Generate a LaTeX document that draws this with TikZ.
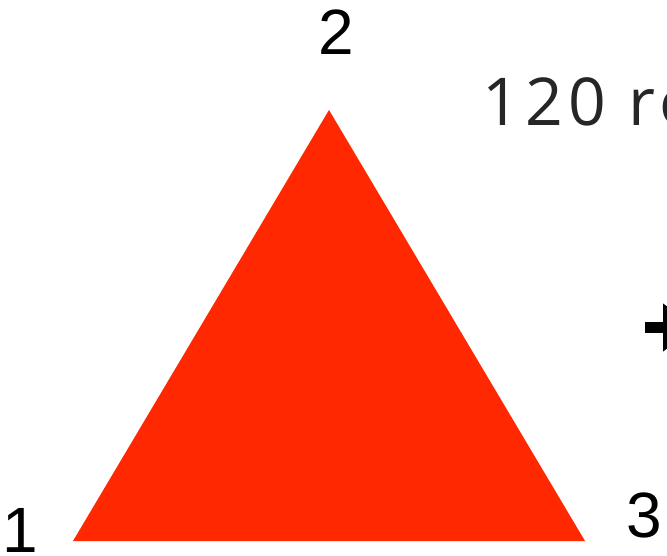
\documentclass[tikz,border=0pt]{standalone}
\usepackage{fontspec}
\setmainfont{Liberation Sans}
\newfontfamily\capfont[LetterSpace=8]{Open Sans}
\usepackage{xcolor}
\usetikzlibrary{arrows.meta,positioning,calc}
\definecolor{triRed}{RGB}{255,40,0}
\tikzstyle{vlabel}=[inner sep=0pt, anchor=base, font=\fontsize{64}{64}\selectfont]
\tikzstyle{note}  =[inner sep=0pt, anchor=base west, text=black!85,
                    font=\capfont\fontsize{66}{66}\selectfont]
\tikzstyle{bigarr}=[line width=11pt, -{Triangle[length=32pt,width=46pt]}]

\begin{document}
\begin{tikzpicture}[x=1pt, y=-1pt]
  \useasboundingbox (0,0) rectangle (667,556);

  % ── triangle corners ────────────────────────────────────────────────────────
  \coordinate (c1) at (73,541);
  \coordinate (c2) at (329,110);
  \coordinate (c3) at (585,541);
  \fill[triRed] (c1) -- (c2) -- (c3) -- cycle;

  % ── corner numbers ──────────────────────────────────────────────────────────
  \node[vlabel] (n1) at (20,552)  {1};
  \node[vlabel] (n2) at (336,55)  {2};
  \node[vlabel] (n3) at (644,537) {3};

  % ── caption and arrow, cut by the right edge ────────────────────────────────
  \node[note] (cap) at (482,126) {120 ro};
  \coordinate (aS) at (645,327.5);
  \coordinate (aE) at (695,327.5);
  \draw[bigarr] (aS) -- (aE);
\end{tikzpicture}
\end{document}
